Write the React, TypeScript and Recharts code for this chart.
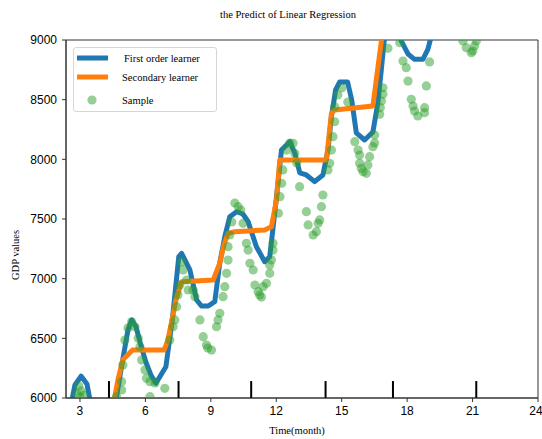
import {
  ComposedChart,
  Line,
  Scatter,
  XAxis,
  YAxis,
  ReferenceLine,
  ReferenceArea,
} from 'recharts';

// First order learner (blue)
const firstOrderX = [
  2.54, 2.77, 3.05, 3.32, 3.55, 4.01, 4.65, 4.92, 5.2, 5.37, 5.57, 5.79, 6.02, 6.25, 6.48, 6.71,
  6.94, 7.25, 7.53, 7.66, 8.04, 8.35, 8.57, 8.88, 9.18, 9.41, 9.64, 9.87, 10.18, 10.47, 10.71,
  11.09, 11.47, 11.7, 11.93, 12.24, 12.62, 12.85, 13.08, 13.38, 13.76, 14.14, 14.37, 14.53, 14.72,
  14.91, 15.27, 15.46, 15.67, 16.05, 16.43, 16.66, 16.82, 16.97, 17.2, 17.34, 17.73, 18.04, 18.34,
  18.72, 18.95, 19.11, 19.31,
];
const firstOrderY = [
  5899, 6109, 6184, 6117, 5899, 5564, 5983, 6277, 6570, 6654, 6597, 6444, 6302, 6193, 6123, 6193,
  6262, 6682, 7184, 7212, 7073, 6821, 6771, 6771, 6807, 7131, 7352, 7519, 7561, 7542, 7477,
  7268, 7142, 7184, 7550, 8078, 8148, 8053, 7886, 7869, 7813, 7869, 8078, 8357, 8581,
  8648, 8648, 8497, 8221, 8162, 8229, 8475, 8757, 9034, 9251, 9293, 8992, 8883, 8838,
  8838, 8922, 9034, 9251,
];

// Secondary learner (orange, step-like)
const secondaryX = [
  4.47, 4.57, 4.74, 4.96, 5.41, 6.86, 7.03, 7.25, 7.4, 7.66, 9.11, 9.41, 9.6, 9.79, 10.1, 11.47,
  11.78, 12.01, 12.16, 14.3, 14.53, 14.68, 16.43, 16.59, 16.82, 16.92,
];
const secondaryY = [
  5816, 5983, 6151, 6318, 6402, 6402, 6486, 6681, 6821, 6975, 6989, 7131, 7282, 7380, 7394, 7408,
  7435, 7659, 7994, 7994, 8388, 8413, 8447, 8673, 8992, 9168,
];

// Samples (green)
const sampleX = [
  2.95, 3.05, 2.86, 3.18, 3.0,
  4.68, 4.91, 4.91, 4.97, 5.06, 5.2, 5.37, 5.52, 5.67, 5.75, 5.83, 5.98, 6.05, 6.21, 6.44, 6.89, 6.21,
  7.12, 7.27, 7.35, 7.43, 7.49, 7.58, 7.73, 7.66, 7.89, 7.96, 8.19, 8.27, 8.5, 8.65, 8.8, 9.03, 8.86,
  9.26, 9.33, 9.41, 9.56, 9.64, 9.72, 9.79, 9.79, 9.87, 9.96,
  10.1, 10.25, 10.37, 10.48, 10.63, 10.71, 10.79, 10.94, 11.02, 11.17, 11.24, 11.32, 11.4, 11.55,
  11.7, 11.7, 11.78, 11.85, 11.85,
  12.1, 12.17, 12.25, 12.3, 12.47, 12.62, 12.77, 12.85, 12.94, 13.07, 13.38, 13.46, 13.69, 13.84,
  13.92, 13.99, 14.07, 14.14, 14.37, 14.45, 14.53, 14.6, 14.68, 14.68, 14.82, 15.0, 15.28,
  15.6, 15.75, 15.82, 15.82, 15.9, 15.98, 16.13, 16.2, 16.28, 16.43, 16.51, 16.51, 16.74, 16.77,
  16.82, 16.89, 16.89,
  17.12, 17.66, 17.81, 17.96, 18.04, 18.19, 18.27, 18.34, 18.49, 18.8, 18.8, 18.88, 19.03,
  20.56, 20.71, 20.94, 21.01, 21.09, 21.17,
];
const sampleY = [
  6101, 6059, 6034, 6025, 6008,
  6011, 6067, 6137, 6277, 6486, 6587, 6639, 6597, 6500, 6430, 6318, 6235, 6165, 6137, 6126, 6081, 6011,
  6486, 6597, 6654, 6765, 6863, 6947, 7073, 7140, 6989, 6905, 6905, 6849, 6654, 6514, 6444, 6402, 6419,
  6597, 6654, 6710, 6849, 6933, 7045, 7156, 7268, 7366, 7475,
  7634, 7603, 7575, 7464, 7296, 7240, 7129, 7073, 6947, 6891, 6863, 6846, 6933, 6961,
  7045, 7115, 7156, 7240, 7296,
  7548, 7687, 7799, 7911, 8078, 8137, 8134, 8051, 7969, 7771, 7561, 7450, 7366, 7394,
  7464, 7492, 7603, 7701, 7911, 7967, 8078, 8190, 8315, 8441, 8539, 8598, 8480,
  8148, 8078, 8036, 7967, 7925, 7896, 7883, 7953, 8022, 8106, 8204, 8137, 8377, 8433,
  8489, 8545, 8600,
  8930, 8977, 8824, 8768, 8656, 8503, 8447, 8405, 8363, 8433, 8391, 8615, 8816,
  8992, 8936, 8894, 8908, 8950, 8992,
];

// short black markers on the bottom
const dividerX = [4.33, 7.52, 10.85, 14.26, 17.35, 21.17];

const xTicks = [3, 6, 9, 12, 15, 18, 21, 24];
const yTicks = [6000, 6500, 7000, 7500, 8000, 8500, 9000];

const firstOrderData = firstOrderX.map((x, i) => ({ x, y: firstOrderY[i] }));
const secondaryData = secondaryX.map((x, i) => ({ x, y: secondaryY[i] }));
const sampleData = sampleX.map((x, i) => ({ x, y: sampleY[i] }));

const serif = '"Liberation Serif", "Times New Roman", serif';
const sans = '"Liberation Sans", Arial, sans-serif';

function Dot(props: any) {
  return <circle cx={props.cx} cy={props.cy} r={4.6} fill="#2ca02c" fillOpacity={0.5} />;
}

export default function App() {
  return (
    <div style={{ position: 'absolute', left: 0, top: 0, width: 542, height: 439, background: '#fff' }}>
      <ComposedChart
        width={542}
        height={439}
        margin={{ top: 40, right: 4, bottom: 11, left: 6 }}
      >
        <XAxis
          type="number"
          dataKey="x"
          domain={[2.36, 24]}
          ticks={xTicks}
          allowDataOverflow
          height={30}
          tickSize={4}
          tickMargin={4}
          stroke="#333"
          tick={{ fill: '#000', fontSize: 12, fontFamily: sans }}
        />
        <YAxis
          type="number"
          dataKey="y"
          domain={[6000, 9000]}
          ticks={yTicks}
          allowDataOverflow
          width={60}
          tickSize={4}
          tickMargin={5}
          stroke="#333"
          tick={{ fill: '#000', fontSize: 12, fontFamily: sans }}
        />
        <ReferenceArea
          x1={2.36}
          x2={24}
          y1={6000}
          y2={9000}
          fill="none"
          stroke="#333"
          strokeWidth={1}
          ifOverflow="visible"
        />
        {dividerX.map((d) => (
          <ReferenceLine
            key={d}
            segment={[{ x: d, y: 6000 }, { x: d, y: 6142 }]}
            stroke="#000"
            strokeWidth={2}
          />
        ))}
        <Line
          data={firstOrderData}
          dataKey="y"
          type="linear"
          stroke="#1f77b4"
          strokeWidth={5}
          strokeLinejoin="round"
          dot={false}
          isAnimationActive={false}
        />
        <Line
          data={secondaryData}
          dataKey="y"
          type="linear"
          stroke="#ff7f0e"
          strokeWidth={5}
          strokeLinejoin="round"
          dot={false}
          isAnimationActive={false}
        />
        <Scatter data={sampleData} shape={<Dot />} isAnimationActive={false} />
      </ComposedChart>

      <div
        style={{
          position: 'absolute',
          left: 0,
          width: 576,
          top: 9,
          textAlign: 'center',
          fontFamily: serif,
          fontSize: 10.5,
          color: '#000',
        }}
      >
        the Predict of Linear Regression
      </div>
      <div
        style={{
          position: 'absolute',
          left: 197,
          width: 200,
          top: 425,
          textAlign: 'center',
          fontFamily: serif,
          fontSize: 10.5,
          color: '#000',
        }}
      >
        Time(month)
      </div>
      <div
        style={{
          position: 'absolute',
          left: 15,
          top: 255,
          transform: 'translate(-50%, -50%) rotate(-90deg)',
          whiteSpace: 'nowrap',
          fontFamily: serif,
          fontSize: 10.5,
          color: '#000',
        }}
      >
        GDP values
      </div>

      <div
        style={{
          position: 'absolute',
          left: 73,
          top: 47,
          width: 144,
          height: 65,
          border: '1px solid #d6d6d6',
          borderRadius: 3,
          background: 'rgba(255,255,255,0.8)',
          boxSizing: 'border-box',
        }}
      >
        <svg width={144} height={65} style={{ position: 'absolute', left: 0, top: 0 }}>
          <line x1={3} x2={34} y1={10} y2={10} stroke="#1f77b4" strokeWidth={5} />
          <line x1={3} x2={34} y1={29} y2={29} stroke="#ff7f0e" strokeWidth={5} />
          <circle cx={18} cy={52} r={4.6} fill="#2ca02c" fillOpacity={0.5} />
          <text x={50} y={13.5} fontFamily={serif} fontSize={10.5} fill="#000">
            First order learner
          </text>
          <text x={48} y={32.5} fontFamily={serif} fontSize={10.5} fill="#000">
            Secondary learner
          </text>
          <text x={48} y={55.5} fontFamily={serif} fontSize={10.5} fill="#000">
            Sample
          </text>
        </svg>
      </div>
    </div>
  );
}
